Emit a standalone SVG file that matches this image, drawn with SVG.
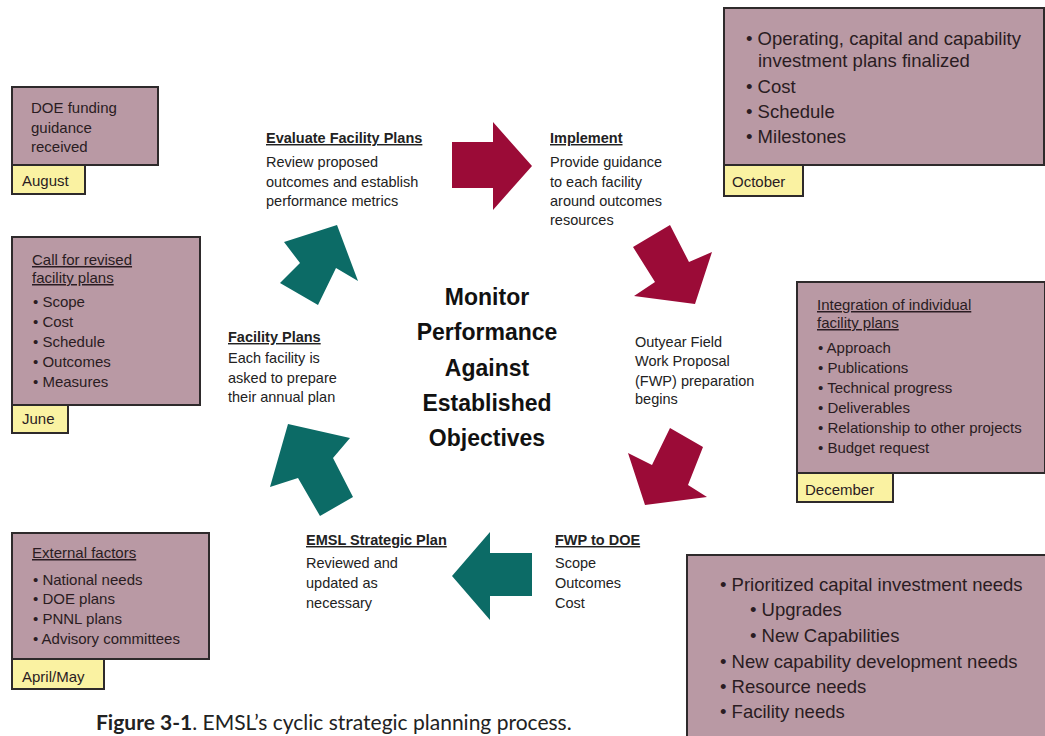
<svg xmlns="http://www.w3.org/2000/svg" width="1045" height="736" viewBox="0 0 1045 736">
<style>
.box{fill:#b999a4;stroke:#2e2a2b;stroke-width:2}
.lbl{fill:#faf2a2;stroke:#2e2a2b;stroke-width:2}
.bt{font-family:"Liberation Sans",Arial,sans-serif;font-size:15px;fill:#2a1c22}
.bl{font-family:"Liberation Sans",Arial,sans-serif;font-size:18.5px;fill:#2a1c22}
.st{font-family:"Liberation Sans",Arial,sans-serif;font-size:14.5px;fill:#222}
.sh{font-family:"Liberation Sans",Arial,sans-serif;font-size:14.5px;font-weight:bold;fill:#222;text-decoration:underline}
.u{text-decoration:underline}
.ctr{font-family:"Liberation Sans",Arial,sans-serif;font-size:23px;font-weight:bold;fill:#111;text-anchor:middle}
.red{fill:#9b0b37}
.teal{fill:#0c6b66}
.cap{font-family:Lato,"Open Sans",sans-serif;font-size:21px;fill:#222}
</style>
<rect width="1045" height="736" fill="#ffffff"/>

<g id="connectors">
<polygon class="red" points="452,142 493,142 493,122 532,166 493,210 493,188 452,188"/>
<polygon class="red" points="633,247 670,225 689,262 712,252 695,304 634,296 655,282"/>
<polygon class="red" points="670,428 703,447 688,485 707,497 645,505 628,453 652,465"/>
<polygon class="teal" points="532,553 532,596 490,596 490,620 452,576 490,532 490,553"/>
<polygon class="teal" points="320,516 353,497 333,458 350,438 288,424 270,487 298,478"/>
<polygon class="teal" points="280,283 318,305 336,268 358,281 337,225 284,242 300,263"/>
</g>

<g id="node-august">
<rect class="box" x="12" y="87" width="146" height="78"/>
<rect class="lbl" x="12" y="165" width="73" height="29"/>
<text class="bt" x="31" y="113">DOE funding</text>
<text class="bt" x="31" y="133">guidance</text>
<text class="bt" x="31" y="152">received</text>
<text class="bt" x="22" y="186">August</text>
</g>

<g id="node-october">
<rect class="box" x="724" y="8" width="320" height="157"/>
<rect class="lbl" x="724" y="165" width="79" height="31"/>
<text class="bl" x="746" y="45">• Operating, capital and capability</text>
<text class="bl" x="758" y="67">investment plans finalized</text>
<text class="bl" x="746" y="93">• Cost</text>
<text class="bl" x="746" y="118">• Schedule</text>
<text class="bl" x="746" y="143">• Milestones</text>
<text class="bt" x="732" y="187">October</text>
</g>

<g id="node-june">
<rect class="box" x="12" y="237" width="188" height="168"/>
<rect class="lbl" x="12" y="405" width="56" height="28"/>
<text class="bt u" x="32" y="265">Call for revised</text>
<text class="bt u" x="32" y="283">facility plans</text>
<text class="bt" x="33" y="307">• Scope</text>
<text class="bt" x="33" y="327">• Cost</text>
<text class="bt" x="33" y="347">• Schedule</text>
<text class="bt" x="33" y="367">• Outcomes</text>
<text class="bt" x="33" y="387">• Measures</text>
<text class="bt" x="22" y="424">June</text>
</g>

<g id="node-december">
<rect class="box" x="797" y="282" width="248" height="191"/>
<rect class="lbl" x="797" y="473" width="96" height="29"/>
<text class="bt u" x="817" y="310">Integration of individual</text>
<text class="bt u" x="817" y="328">facility plans</text>
<text class="bt" x="818" y="353">• Approach</text>
<text class="bt" x="818" y="373">• Publications</text>
<text class="bt" x="818" y="393">• Technical progress</text>
<text class="bt" x="818" y="413">• Deliverables</text>
<text class="bt" x="818" y="433">• Relationship to other projects</text>
<text class="bt" x="818" y="453">• Budget request</text>
<text class="bt" x="805" y="495">December</text>
</g>

<g id="node-aprilmay">
<rect class="box" x="12" y="533" width="197" height="126"/>
<rect class="lbl" x="12" y="659" width="92" height="30"/>
<text class="bt u" x="32" y="558">External factors</text>
<text class="bt" x="33" y="585">• National needs</text>
<text class="bt" x="33" y="604">• DOE plans</text>
<text class="bt" x="33" y="624">• PNNL plans</text>
<text class="bt" x="33" y="644">• Advisory committees</text>
<text class="bt" x="22" y="682">April/May</text>
</g>

<g id="node-needs">
<rect class="box" x="687" y="555" width="360" height="190"/>
<text class="bl" x="720" y="591">• Prioritized capital investment needs</text>
<text class="bl" x="750" y="616">• Upgrades</text>
<text class="bl" x="750" y="642">• New Capabilities</text>
<text class="bl" x="720" y="668">• New capability development needs</text>
<text class="bl" x="720" y="693">• Resource needs</text>
<text class="bl" x="720" y="718">• Facility needs</text>
</g>

<g id="node-evaluate">
<text class="sh" x="266" y="143">Evaluate Facility Plans</text>
<text class="st" x="266" y="167">Review proposed</text>
<text class="st" x="266" y="187">outcomes and establish</text>
<text class="st" x="266" y="206">performance metrics</text>
</g>

<g id="node-implement">
<text class="sh" x="550" y="143">Implement</text>
<text class="st" x="550" y="167">Provide guidance</text>
<text class="st" x="550" y="187">to each facility</text>
<text class="st" x="550" y="206">around outcomes</text>
<text class="st" x="550" y="225">resources</text>
</g>

<g id="node-outyear">
<text class="st" x="635" y="347">Outyear Field</text>
<text class="st" x="635" y="366">Work Proposal</text>
<text class="st" x="635" y="386">(FWP) preparation</text>
<text class="st" x="635" y="404">begins</text>
</g>

<g id="node-fwp">
<text class="sh" x="555" y="545">FWP to DOE</text>
<text class="st" x="555" y="568">Scope</text>
<text class="st" x="555" y="588">Outcomes</text>
<text class="st" x="555" y="608">Cost</text>
</g>

<g id="node-emsl">
<text class="sh" x="306" y="545">EMSL Strategic Plan</text>
<text class="st" x="306" y="568">Reviewed and</text>
<text class="st" x="306" y="588">updated as</text>
<text class="st" x="306" y="608">necessary</text>
</g>

<g id="node-facility">
<text class="sh" x="228" y="342">Facility Plans</text>
<text class="st" x="228" y="363">Each facility is</text>
<text class="st" x="228" y="383">asked to prepare</text>
<text class="st" x="228" y="402">their annual plan</text>
</g>

<g id="node-center">
<text class="ctr" x="487" y="305">Monitor</text>
<text class="ctr" x="487" y="340">Performance</text>
<text class="ctr" x="487" y="376">Against</text>
<text class="ctr" x="487" y="411">Established</text>
<text class="ctr" x="487" y="446">Objectives</text>
</g>

<text class="cap" x="96" y="730"><tspan font-weight="bold">Figure 3-1</tspan>. EMSL’s cyclic strategic planning process.</text>
</svg>
